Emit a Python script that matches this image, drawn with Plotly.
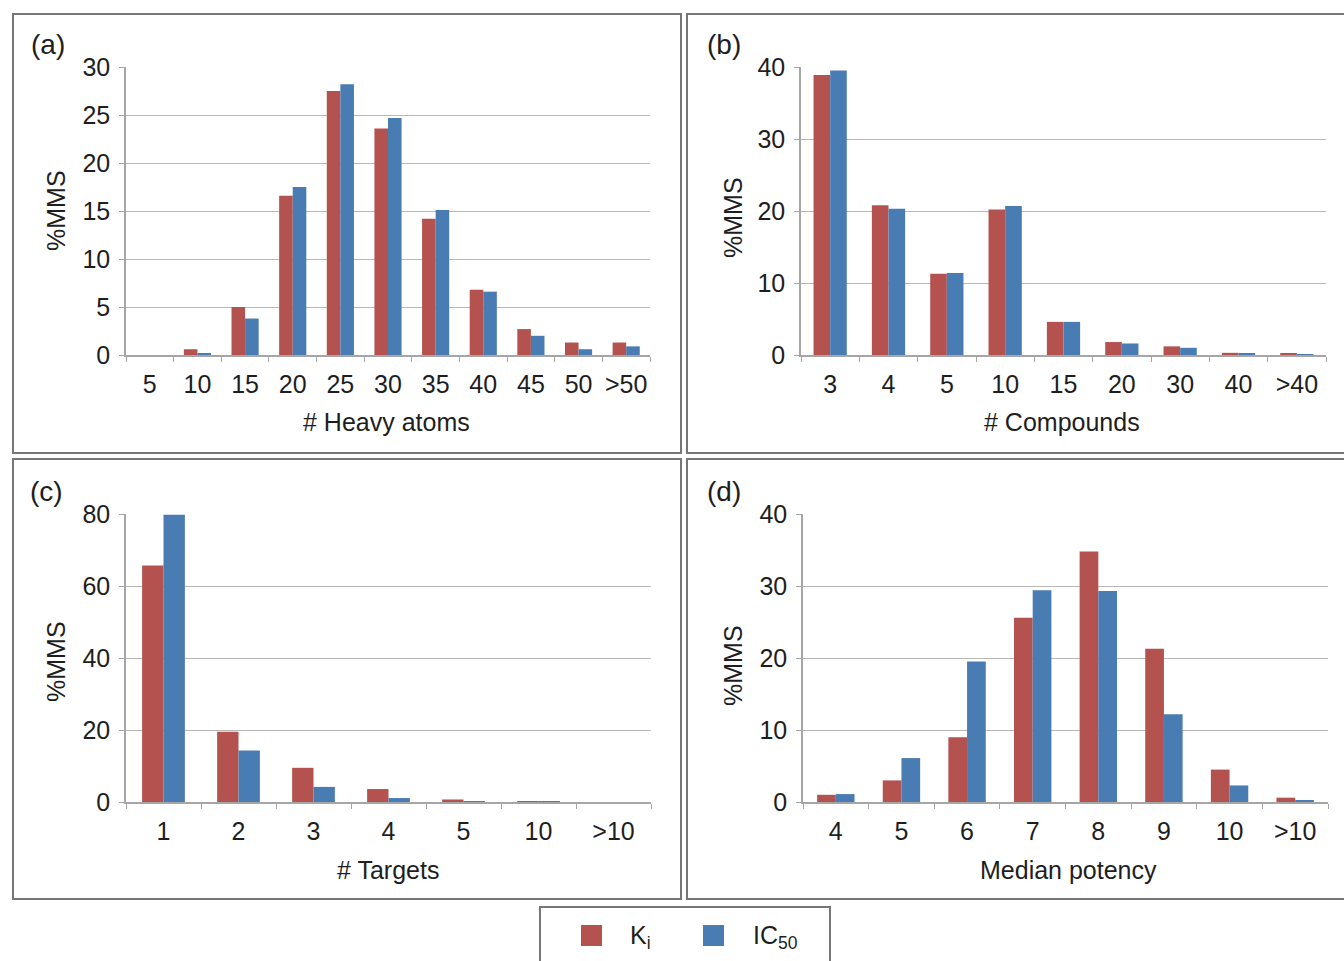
import plotly.graph_objects as go

# ---- data -----------------------------------------------------------------
heavy_cats = ["5", "10", "15", "20", "25", "30", "35", "40", "45", "50", ">50"]
heavy_ki = [0.0, 0.6, 5.0, 16.6, 27.5, 23.6, 14.2, 6.8, 2.7, 1.3, 1.3]
heavy_ic50 = [0.0, 0.2, 3.8, 17.5, 28.2, 24.7, 15.1, 6.6, 2.0, 0.6, 0.9]

cpd_cats = ["3", "4", "5", "10", "15", "20", "30", "40", ">40"]
cpd_ki = [38.9, 20.8, 11.3, 20.2, 4.6, 1.8, 1.2, 0.3, 0.15]
cpd_ic50 = [39.5, 20.3, 11.4, 20.7, 4.6, 1.6, 1.0, 0.2, 0.1]

tgt_cats = ["1", "2", "3", "4", "5", "10", ">10"]
tgt_ki = [65.7, 19.5, 9.5, 3.6, 0.7, 0.2, 0.0]
tgt_ic50 = [79.8, 14.3, 4.2, 1.1, 0.05, 0.2, 0.0]

pot_cats = ["4", "5", "6", "7", "8", "9", "10", ">10"]
pot_ki = [1.0, 3.0, 9.0, 25.6, 34.8, 21.3, 4.5, 0.6]
pot_ic50 = [1.1, 6.1, 19.5, 29.4, 29.3, 12.2, 2.3, 0.15]

# ---- styling --------------------------------------------------------------
W, H = 1344, 961
KI_COLOR = "#B45250"
IC_COLOR = "#4A7CB4"
AXIS_COLOR = "#A6A6A6"
GRID_COLOR = "#B8B8B8"
FRAME_COLOR = "#777777"
TEXT_COLOR = "#1E1E1E"
FONT = "Liberation Sans, Arial, Helvetica, sans-serif"
FS = 25


def px(x):
    return x / W


def py(y):
    return 1 - y / H


# plot areas in pixels: (left, right, top, bottom)
panels = [
    dict(cats=heavy_cats, ki=heavy_ki, ic=heavy_ic50, rng=30, dt=5,
         box=(126, 650, 67, 355), title="# Heavy atoms", label="(a)",
         title_xy=(387, 422), ytitle_xy=(56, 211), label_xy=(48, 45)),
    dict(cats=cpd_cats, ki=cpd_ki, ic=cpd_ic50, rng=40, dt=10,
         box=(801, 1326, 67, 355), title="# Compounds", label="(b)",
         title_xy=(1062, 422), ytitle_xy=(733, 218), label_xy=(724, 45)),
    dict(cats=tgt_cats, ki=tgt_ki, ic=tgt_ic50, rng=80, dt=20,
         box=(126, 651, 514, 802), title="# Targets", label="(c)",
         title_xy=(388, 870), ytitle_xy=(56, 662), label_xy=(46, 491)),
    dict(cats=pot_cats, ki=pot_ki, ic=pot_ic50, rng=40, dt=10,
         box=(803, 1328, 514, 802), title="Median potency", label="(d)",
         title_xy=(1068, 870), ytitle_xy=(733, 666), label_xy=(724, 491)),
]

fig = go.Figure()
annotations = []
shapes = []
layout_axes = {}

for i, p in enumerate(panels, start=1):
    xa = "x" if i == 1 else f"x{i}"
    ya = "y" if i == 1 else f"y{i}"
    fig.add_trace(go.Bar(x=p["cats"], y=p["ki"], name="Ki", marker_color=KI_COLOR,
                         marker_line_width=0, xaxis=xa, yaxis=ya, showlegend=False))
    fig.add_trace(go.Bar(x=p["cats"], y=p["ic"], name="IC50", marker_color=IC_COLOR,
                         marker_line_width=0, xaxis=xa, yaxis=ya, showlegend=False))
    l, r, t, b = p["box"]
    key = "" if i == 1 else str(i)
    layout_axes[f"xaxis{key}"] = dict(
        domain=[px(l), px(r)], anchor=ya, type="category", automargin=False,
        showline=True, linecolor=AXIS_COLOR, linewidth=1.5,
        ticks="outside", tickson="boundaries", ticklen=5, tickcolor=AXIS_COLOR,
        showgrid=False, tickangle=0,
        tickfont=dict(size=FS, color=TEXT_COLOR, family=FONT),
        ticklabelstandoff=6,
    )
    layout_axes[f"yaxis{key}"] = dict(
        domain=[py(b), py(t)], anchor=xa, range=[0, p["rng"]], dtick=p["dt"],
        automargin=False,
        showline=True, linecolor=AXIS_COLOR, linewidth=1.5,
        ticks="outside", ticklen=5, tickcolor=AXIS_COLOR,
        showgrid=True, gridcolor=GRID_COLOR, gridwidth=1.2, zeroline=False,
        tickfont=dict(size=FS, color=TEXT_COLOR, family=FONT),
        ticklabelstandoff=4,
    )
    annotations.append(dict(text=p["title"], x=px(p["title_xy"][0]), y=py(p["title_xy"][1]),
                            xref="paper", yref="paper", showarrow=False,
                            xanchor="center", yanchor="middle",
                            font=dict(size=FS, color=TEXT_COLOR, family=FONT)))
    annotations.append(dict(text="%MMS", x=px(p["ytitle_xy"][0]), y=py(p["ytitle_xy"][1]),
                            xref="paper", yref="paper", showarrow=False, textangle=-90,
                            xanchor="center", yanchor="middle",
                            font=dict(size=FS, color=TEXT_COLOR, family=FONT)))
    annotations.append(dict(text=p["label"], x=px(p["label_xy"][0]), y=py(p["label_xy"][1]),
                            xref="paper", yref="paper", showarrow=False,
                            xanchor="center", yanchor="middle",
                            font=dict(size=28, color=TEXT_COLOR, family=FONT)))

# panel frames
for (x0, x1, y0, y1) in [(13, 681, 14, 453), (687, 1352, 14, 453),
                         (13, 681, 459, 899), (687, 1352, 459, 899)]:
    shapes.append(dict(type="rect", xref="paper", yref="paper",
                       x0=px(x0), x1=px(x1), y0=py(y1), y1=py(y0),
                       line=dict(color=FRAME_COLOR, width=2), fillcolor="rgba(0,0,0,0)"))

# legend box with swatches
shapes.append(dict(type="rect", xref="paper", yref="paper",
                   x0=px(540), x1=px(830), y0=py(980), y1=py(907),
                   line=dict(color=FRAME_COLOR, width=2), fillcolor="rgba(0,0,0,0)"))
for (sx, col) in [(581, KI_COLOR), (703, IC_COLOR)]:
    shapes.append(dict(type="rect", xref="paper", yref="paper",
                       x0=px(sx), x1=px(sx + 21), y0=py(946), y1=py(925),
                       line=dict(width=0), fillcolor=col))
annotations.append(dict(text="K<sub>i</sub>", x=px(628), y=py(937), xref="paper", yref="paper",
                        showarrow=False, xanchor="left", yanchor="middle",
                        font=dict(size=FS, color=TEXT_COLOR, family=FONT)))
annotations.append(dict(text="IC<sub>50</sub>", x=px(751), y=py(937), xref="paper", yref="paper",
                        showarrow=False, xanchor="left", yanchor="middle",
                        font=dict(size=FS, color=TEXT_COLOR, family=FONT)))

fig.update_layout(
    template="none",
    width=W, height=H, margin=dict(l=0, r=0, t=0, b=0, pad=0, autoexpand=False),
    paper_bgcolor="white", plot_bgcolor="white",
    barmode="group", bargap=0.43, bargroupgap=0,
    annotations=annotations, shapes=shapes,
    font=dict(family=FONT, color=TEXT_COLOR),
    **layout_axes,
)

# page body without the browser's default margin, so the figure fills the window
fig.write_html(
    "out.html",
    post_script="document.body.style.margin='0';document.body.style.overflow='hidden';",
)
